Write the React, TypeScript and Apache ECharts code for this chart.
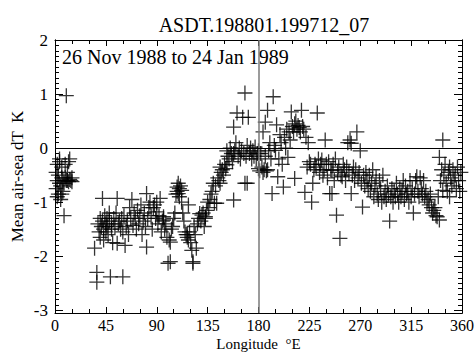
import React, { useEffect, useRef } from "react";
import * as echarts from "echarts";

const titleText = "ASDT.198801.199712_07";
const periodText = "26 Nov 1988 to 24 Jan 1989";
const xTicks = [0, 45, 90, 135, 180, 225, 270, 315, 360];
const yTicks = [-3, -2, -1, 0, 1, 2];

const band0to20: number[][] = [
  [1, -0.45], [1, -0.75], [2, -0.3], [2, -0.6], [3, -0.85], [3, -0.5], [4, -0.65], [4, -0.2],
  [5, -0.7], [5, -0.95], [6, -0.55], [6, -0.35], [7, -0.6], [7, -0.8], [8, -0.65], [8, -1.25],
  [9, -0.55], [9, -0.3], [10, -0.6], [10, 0.97], [11, -0.6], [11, -0.45], [12, -0.25], [12, -0.62],
  [13, -0.58], [14, -0.6], [15, -0.55], [15, -0.62], [4, -0.25], [13, -0.2], [2, -0.9], [6, -0.85],
];

const band35to70: number[][] = [
  [35, -1.85], [37, -2.3], [37, -2.48], [38, -1.4], [39, -1.55], [40, -1.3], [40, -1.65], [41, -1.45],
  [42, -0.93], [42, -1.35], [43, -1.5], [43, -1.7], [44, -1.25], [45, -1.4], [45, -1.55], [46, -1.3],
  [46, -1.45], [47, -1.6], [48, -1.2], [48, -1.35], [49, -2.38], [50, -1.5], [50, -1.4], [51, -1.75],
  [52, -1.3], [53, -1.45], [54, -1.2], [55, -1.76], [55, -0.93], [56, -1.4], [57, -1.35], [58, -1.5],
  [59, -1.3], [60, -1.55], [60, -2.38], [61, -1.25], [62, -1.8], [63, -1.45], [64, -1.35], [65, -1.6],
  [66, -1.1], [67, -1.3], [68, -0.95], [69, -1.43], [70, -1.2],
];

const band70to100: number[][] = [
  [71, -1.3], [72, -1.5], [73, -1.15], [74, -1.4], [75, -1.25], [76, -1.05], [77, -1.6], [78, -1.35],
  [79, -1.2], [80, -1.45], [81, -0.84], [81, -1.83], [82, -1.3], [83, -1.1], [84, -1.0], [85, -1.25],
  [86, -1.5], [87, -1.1], [88, -1.05], [89, -1.3], [90, -1.18], [90, -1.0], [91, -1.4], [92, -1.25],
  [93, -0.93], [94, -1.55], [95, -1.35], [96, -1.27], [96, -1.33], [97, -1.5], [98, -1.4], [99, -1.65],
  [100, -2.13],
];

const band100to135: number[][] = [
  [101, -1.7], [102, -1.74], [102, -2.1], [103, -1.5], [104, -1.45], [105, -1.3], [106, -1.2], [107, -0.85],
  [108, -0.72], [108, -0.8], [109, -0.84], [109, -0.65], [110, -0.75], [110, -0.9], [111, -0.7], [112, -0.78],
  [112, -1.0], [113, -1.2], [114, -1.35], [115, -1.55], [116, -1.6], [117, -1.65], [117, -1.6], [118, -1.05],
  [118, -1.7], [119, -1.55], [120, -1.75], [121, -1.89], [122, -2.1], [122, -2.13], [123, -1.45], [124, -1.6],
  [125, -1.85], [126, -1.4], [127, -1.3], [128, -1.21], [129, -1.35], [130, -1.24], [131, -1.2], [132, -1.45],
  [133, -1.27], [133, -1.3], [134, -1.15], [135, -1.0],
];

const band135to180: number[][] = [
  [136, -1.1], [137, -0.95], [138, -0.85], [139, -0.8], [140, -0.65], [141, -1.02], [142, -0.7], [143, -1.02],
  [144, -0.55], [145, -0.6], [146, -0.65], [146, -0.35], [147, -0.45], [148, -0.4], [149, -0.5], [150, -0.3],
  [151, -0.38], [152, -0.31], [152, -0.05], [153, -0.15], [154, -0.2], [155, 0.0], [156, -0.1], [157, -0.25],
  [158, -0.1], [158, 0.39], [158, -0.96], [159, -0.05], [160, 0.1], [161, 0.65], [162, -0.15], [163, 0.0],
  [164, -0.2], [165, -0.05], [166, 0.57], [167, -0.1], [168, 1.02], [168, -0.65], [169, -0.15], [170, -0.65],
  [170, 0.05], [171, 0.57], [172, -0.1], [173, 0.0], [174, -0.2], [175, -0.05], [176, -0.15], [177, 0.02],
  [178, -0.2], [179, -0.1],
];

const band180to230: number[][] = [
  [180, -0.38], [180, -0.05], [181, -0.42], [182, -0.1], [183, -0.35], [184, 0.3], [184, -0.45], [185, -0.4],
  [186, 0.48], [186, -0.15], [187, -0.42], [188, 0.7], [188, -0.4], [189, -0.05], [190, 0.1], [191, -0.2],
  [192, -0.84], [193, 0.95], [194, 0.05], [195, -0.04], [196, 0.43], [197, -0.53], [198, -0.2], [199, 0.25],
  [200, 0.1], [201, -0.3], [202, -0.72], [203, 0.2], [204, 0.0], [205, 0.35], [206, -0.17], [207, 0.3],
  [208, 0.15], [209, 0.67], [210, 0.4], [211, 0.3], [212, -0.56], [212, 0.45], [213, 0.5], [214, 0.35],
  [215, 0.42], [216, 0.38], [217, 0.3], [218, 0.7], [219, 0.4], [220, 0.35], [221, -0.82], [222, 0.2],
  [223, -0.35], [224, 0.1], [225, -0.25], [226, -0.3], [227, -1.0], [228, -0.65], [229, -0.4], [230, -0.3],
];

const band230to280: number[][] = [
  [231, -0.35], [232, 0.65], [233, -0.2], [234, -0.45], [235, -0.3], [236, -0.22], [237, -0.5], [238, -0.4],
  [239, 0.15], [240, -0.3], [241, -0.55], [242, -0.25], [243, -0.84], [244, -0.4], [245, -0.41], [245, -0.84],
  [246, -0.3], [247, -0.6], [248, -0.2], [249, -1.24], [250, -0.45], [251, -0.35], [252, -1.67], [253, -0.5],
  [254, -0.53], [255, -0.3], [256, -0.4], [257, -0.6], [258, -0.35], [259, 0.1], [260, -0.45], [261, 0.15],
  [262, -0.84], [262, 0.09], [263, -0.5], [264, -0.35], [265, -0.6], [266, -0.4], [267, 0.3], [268, -0.55],
  [269, -0.45], [270, -0.05], [271, -0.65], [272, -1.09], [273, -0.5], [274, -0.7], [275, -0.45], [276, -0.6],
  [277, -0.75], [278, -0.5], [279, -0.8], [280, -0.65],
];

const band280to360: number[][] = [
  [281, -0.4], [282, -0.9], [283, -0.7], [284, -0.55], [285, -0.85], [286, -0.95], [287, -0.6], [288, -0.75],
  [289, -1.0], [290, -0.5], [291, -0.9], [292, -0.8], [293, -0.95], [294, -0.7], [295, -0.85], [296, -1.35],
  [297, -0.9], [298, -0.75], [299, -1.0], [300, -0.8], [301, -0.9], [302, -0.65], [303, -0.85], [304, -1.0],
  [305, -0.75], [306, -0.9], [307, -0.8], [308, -0.6], [309, -0.95], [310, -0.7], [311, -0.85], [312, -0.8],
  [313, -1.0], [314, -0.6], [315, -0.9], [316, -0.75], [317, -1.2], [318, -0.85], [319, -0.6], [320, -0.53],
  [321, -0.8], [322, -0.9], [323, -0.55], [324, -0.75], [325, -0.85], [326, -0.6], [327, -0.9], [328, -0.8],
  [329, -1.0], [330, -0.95], [331, -1.05], [332, -0.85], [333, -1.1], [334, -1.2], [335, -1.15], [336, -1.1],
  [337, -1.25], [338, -1.27], [339, -0.9], [340, -0.17], [340, -1.33], [341, -0.6], [342, -0.4], [343, 0.15],
  [343, -0.78], [344, -0.5], [345, -0.3], [346, -0.65], [347, -0.8], [348, -0.45], [349, -0.9], [349, -0.35],
  [350, -0.55], [351, -0.7], [352, -0.4], [353, -0.6], [354, -0.5], [355, -0.75], [356, -0.35], [357, -0.6],
  [358, -0.8], [359, -0.45],
];

const FONT = "'Liberation Serif', 'Times New Roman', 'DejaVu Serif', serif";

export default function App() {
  const ref = useRef<HTMLDivElement>(null);
  useEffect(() => {
    if (!ref.current) return;
    const chart = echarts.init(ref.current, null, { renderer: "svg" });
    const points = [
      ...band0to20, ...band35to70, ...band70to100, ...band100to135,
      ...band135to180, ...band180to230, ...band230to280, ...band280to360,
    ];
    const yMin = -3.05;
    const yMax = 2;
    const minorY: number[] = [];
    for (let i = -30; i <= 20; i++) minorY.push(i / 10);
    const baseY = {
      type: "value" as const,
      min: yMin,
      max: yMax,
      splitLine: { show: false },
      axisLine: { show: true, lineStyle: { color: "#000", width: 1 } },
    };
    const baseX = {
      type: "value" as const,
      min: 0,
      max: 360,
      interval: 45,
      splitLine: { show: false },
      axisLine: { show: true, onZero: false, lineStyle: { color: "#000", width: 1 } },
      axisTick: { show: true, inside: true, length: 6, lineStyle: { color: "#000" } },
      minorTick: { show: true, splitNumber: 3, length: 4, lineStyle: { color: "#000" } },
    };
    chart.setOption({
      animation: false,
      backgroundColor: "#fff",
      textStyle: { fontFamily: FONT, color: "#000" },
      title: {
        text: titleText,
        left: 259,
        top: 10,
        textAlign: "center",
        textStyle: { fontFamily: FONT, fontSize: 20, fontWeight: "normal", color: "#000" },
      },
      grid: { left: 55, right: 13, top: 40, bottom: 40, containLabel: false, outerBoundsMode: "none" },
      xAxis: [
        {
          ...baseX,
          position: "bottom",
          name: "Longitude  \u00b0E",
          nameLocation: "middle",
          nameGap: 23,
          nameMoveOverlap: false,
          nameTextStyle: { fontFamily: FONT, fontSize: 15, color: "#000", verticalAlign: "top", lineHeight: 15 },
          axisLabel: { fontFamily: FONT, fontSize: 16, color: "#000", margin: 4, lineHeight: 16 },
        },
        { ...baseX, position: "top", axisLabel: { show: false } },
      ],
      yAxis: [
        {
          ...baseY,
          position: "left",
          name: "Mean air-sea dT  K",
          nameLocation: "middle",
          nameGap: 29,
          nameMoveOverlap: false,
          nameTextStyle: { fontFamily: FONT, fontSize: 17, color: "#000" },
          axisTick: { show: true, inside: true, length: 8, customValues: yTicks, lineStyle: { color: "#000" } },
          axisLabel: {
            fontFamily: FONT, fontSize: 17, color: "#000", margin: 7, customValues: yTicks,
            formatter: (v: number) => String(v),
          },
        },
        {
          ...baseY,
          position: "left",
          axisTick: { show: true, inside: true, length: 4, customValues: minorY, lineStyle: { color: "#000" } },
          axisLabel: { show: false },
        },
        {
          ...baseY,
          position: "right",
          axisTick: { show: true, inside: true, length: 8, customValues: yTicks, lineStyle: { color: "#000" } },
          axisLabel: { show: false },
        },
        {
          ...baseY,
          position: "right",
          axisTick: { show: true, inside: true, length: 4, customValues: minorY, lineStyle: { color: "#000" } },
          axisLabel: { show: false },
        },
      ],
      graphic: [
        {
          type: "text",
          left: 62,
          top: 47,
          z: 1,
          style: { text: periodText, fontFamily: FONT, fontSize: 20, fill: "#000" },
        },
      ],
      series: [
        {
          type: "scatter",
          xAxisIndex: 0,
          yAxisIndex: 0,
          symbol: "path://M0,7L14,7M7,0L7,14",
          symbolSize: 15,
          itemStyle: { color: "rgba(0,0,0,0)", borderColor: "#000", borderWidth: 1.3 },
          data: points,
          z: 3,
          markLine: {
            silent: true,
            symbol: ["none", "none"],
            label: { show: false },
            data: [
              { xAxis: 180, lineStyle: { color: "#7a7a7a", width: 1.5, type: "solid" } },
              { yAxis: 0, lineStyle: { color: "#000", width: 1, type: "solid" } },
            ],
          },
        },
      ],
    });
    return () => chart.dispose();
  }, []);
  return (
    <div
      ref={ref}
      style={{ position: "absolute", left: 0, top: 0, width: 475, height: 353, background: "#fff" }}
    />
  );
}
